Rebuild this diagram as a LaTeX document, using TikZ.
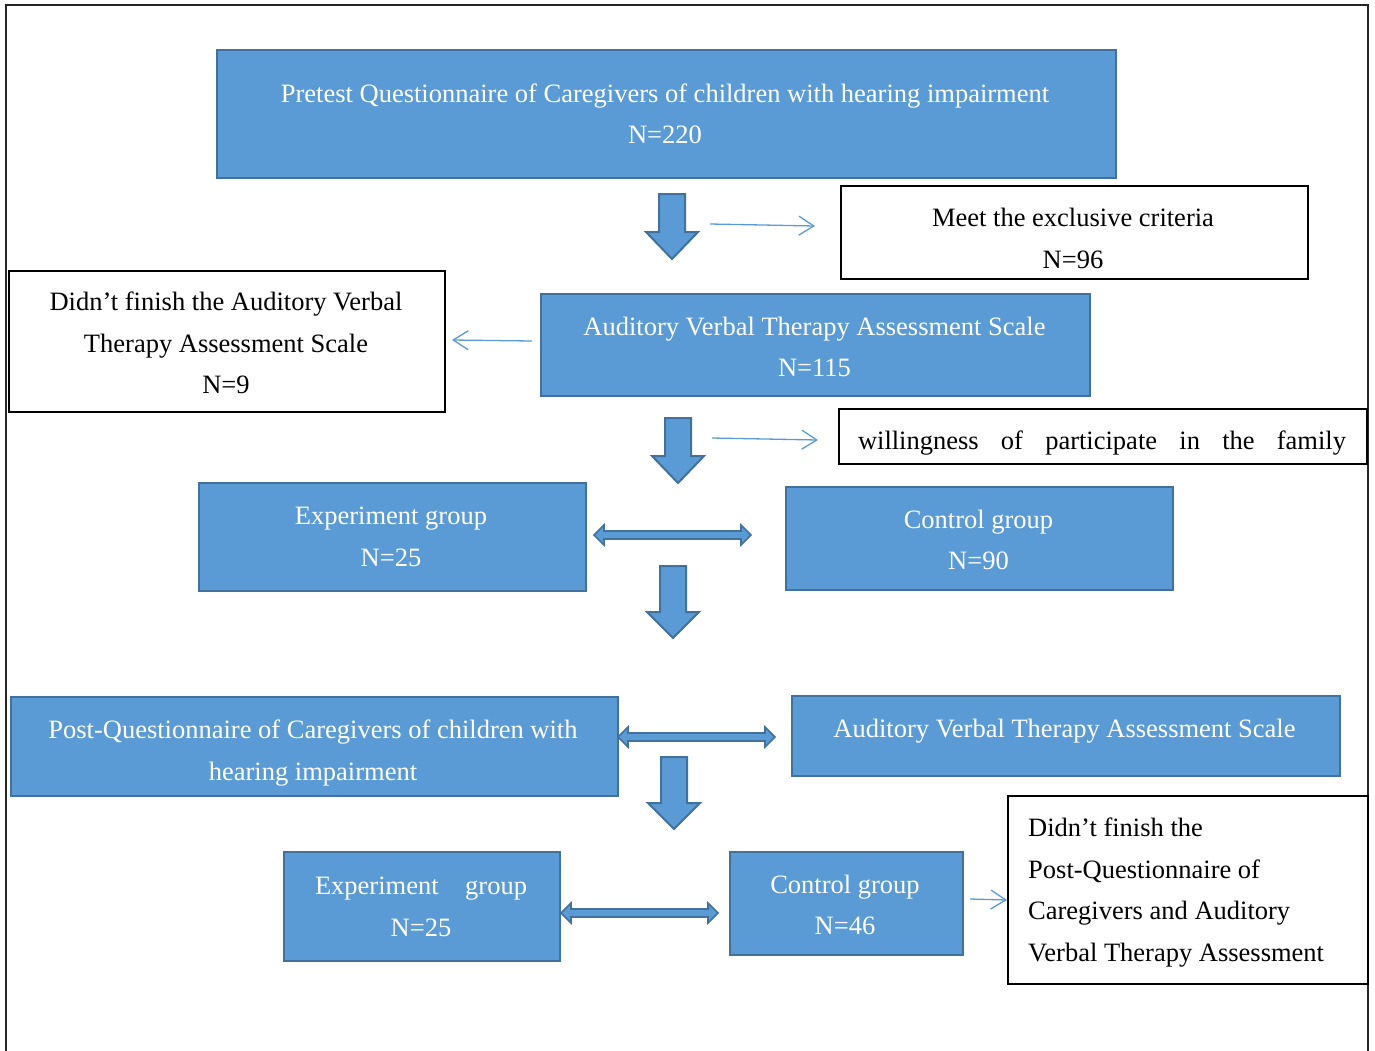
\documentclass[tikz,border=0pt]{standalone}
\usepackage{fontspec}
\setmainfont{Liberation Serif}
\usetikzlibrary{arrows.meta}
\definecolor{boxfill}{HTML}{5B9BD5}
\definecolor{boxline}{HTML}{41719C}
\tikzset{
  txt/.style={font=\fontsize{26.5}{41.5}\selectfont, inner sep=0pt, align=center},
  wtxt/.style={txt, text=white},
  btxt/.style={txt, text=black},
  bluebox/.style={draw=boxline, line width=2pt, fill=boxfill, inner sep=0pt, anchor=north west},
  whitebox/.style={draw=black, line width=1.5pt, fill=white, inner sep=0pt, anchor=north west},
  thinarrow/.style={draw=boxfill, line width=1.3pt, -{Straight Barb[length=15pt,width=19pt]}},
  blockarrow/.style={draw=boxline, line width=2pt, fill=boxfill, line join=miter},
  pics/downarrow/.style 2 args={code={
    \draw[blockarrow] (-13,0) -- (13,0) -- (13,#1) -- (26,#1) -- (0,#1+#2) -- (-26,#1) -- (-13,#1) -- cycle;}},
  pics/dblarrow/.style={code={
    \draw[blockarrow, line width=1.6pt] (0,0) -- (10,-10) -- (10,-4) -- (#1-10,-4) -- (#1-10,-10) -- (#1,0) -- (#1-10,10) -- (#1-10,4) -- (10,4) -- (10,10) -- cycle;}},
}
\begin{document}
\begin{tikzpicture}[x=1pt,y=-1pt]
\useasboundingbox (0,0) rectangle (1375,1050);
\draw[line width=2pt, draw=black!85] (6,1055) -- (6,5) -- (1368,5) -- (1368,1055);

% boxes
\node[bluebox, minimum width=899pt, minimum height=128pt] (pre) at (216,49) {};
\node[wtxt] (pre-t) at (665,114)
  {Pretest Questionnaire of Caregivers of children with hearing impairment\\N=220};
\node[whitebox, minimum width=467pt, minimum height=93pt] (meet) at (840,185) {};
\node[btxt] (meet-t) at (1073,238.5) {Meet the exclusive criteria\\N=96};
\node[whitebox, minimum width=436pt, minimum height=141pt] (nofin) at (8,270) {};
\node[btxt] (nofin-t) at (226,343)
  {Didn’t finish the Auditory Verbal\\Therapy Assessment Scale\\N=9};
\node[bluebox, minimum width=549pt, minimum height=102pt] (avtas) at (540,293) {};
\node[wtxt] (avtas-t) at (814.5,347) {Auditory Verbal Therapy Assessment Scale\\N=115};
\node[whitebox, minimum width=528pt, minimum height=55pt] (will) at (838,408) {};
\node[btxt] (will-t) at (1102,443)
  {\makebox[488pt][s]{willingness of participate in the family}};
\node[bluebox, minimum width=387pt, minimum height=108pt] (exp1) at (198,482) {};
\node[wtxt] (exp1-t) at (391,537) {Experiment group\\N=25};
\node[bluebox, minimum width=387pt, minimum height=103pt] (ctl1) at (785,486) {};
\node[wtxt] (ctl1-t) at (978.5,540) {Control group\\N=90};
\node[bluebox, minimum width=607pt, minimum height=99pt] (post) at (10,696) {};
\node[wtxt] (post-t) at (313,753)
  {Post-Questionnaire of Caregivers of children with\\hearing impairment};
\node[bluebox, minimum width=548pt, minimum height=80pt] (avtas2) at (791,695) {};
\node[wtxt] (avtas2-t) at (1064.5,731) {Auditory Verbal Therapy Assessment Scale};
\node[bluebox, minimum width=276pt, minimum height=109pt] (exp2) at (283,851) {};
\node[wtxt] (exp2-t) at (421,907) {\makebox[212pt][s]{Experiment group}\\N=25};
\node[bluebox, minimum width=233pt, minimum height=103pt] (ctl2) at (729,851) {};
\node[wtxt] (ctl2-t) at (845,905) {Control group\\N=46};
\node[whitebox, minimum width=360pt, minimum height=188pt] (nofin2) at (1007,795) {};
\node[btxt, align=left, anchor=west] (nofin2-t) at (1028,892.5)
  {Didn’t finish the\\Post-Questionnaire of\\Caregivers and Auditory\\Verbal Therapy Assessment};

% block arrows
\pic at (672,194) {downarrow={38}{27}};
\pic at (678,418) {downarrow={38}{27}};
\pic at (673,566) {downarrow={46}{26}};
\pic at (674,757) {downarrow={46}{26}};

% double arrows
\pic at (594,535) {dblarrow=157};
\pic at (618,737) {dblarrow=157};
\pic at (561,913) {dblarrow=157};

% thin arrows
\coordinate (t1s) at (710,224); \coordinate (t1e) at (815,226);
\coordinate (t2s) at (532,341); \coordinate (t2e) at (452,340);
\coordinate (t3s) at (712,438); \coordinate (t3e) at (818,440);
\coordinate (t4s) at (970,899); \coordinate (t4e) at (1007,900);
\draw[thinarrow] (t1s) -- (t1e);
\draw[thinarrow] (t2s) -- (t2e);
\draw[thinarrow] (t3s) -- (t3e);
\draw[thinarrow] (t4s) -- (t4e);
\end{tikzpicture}
\end{document}
